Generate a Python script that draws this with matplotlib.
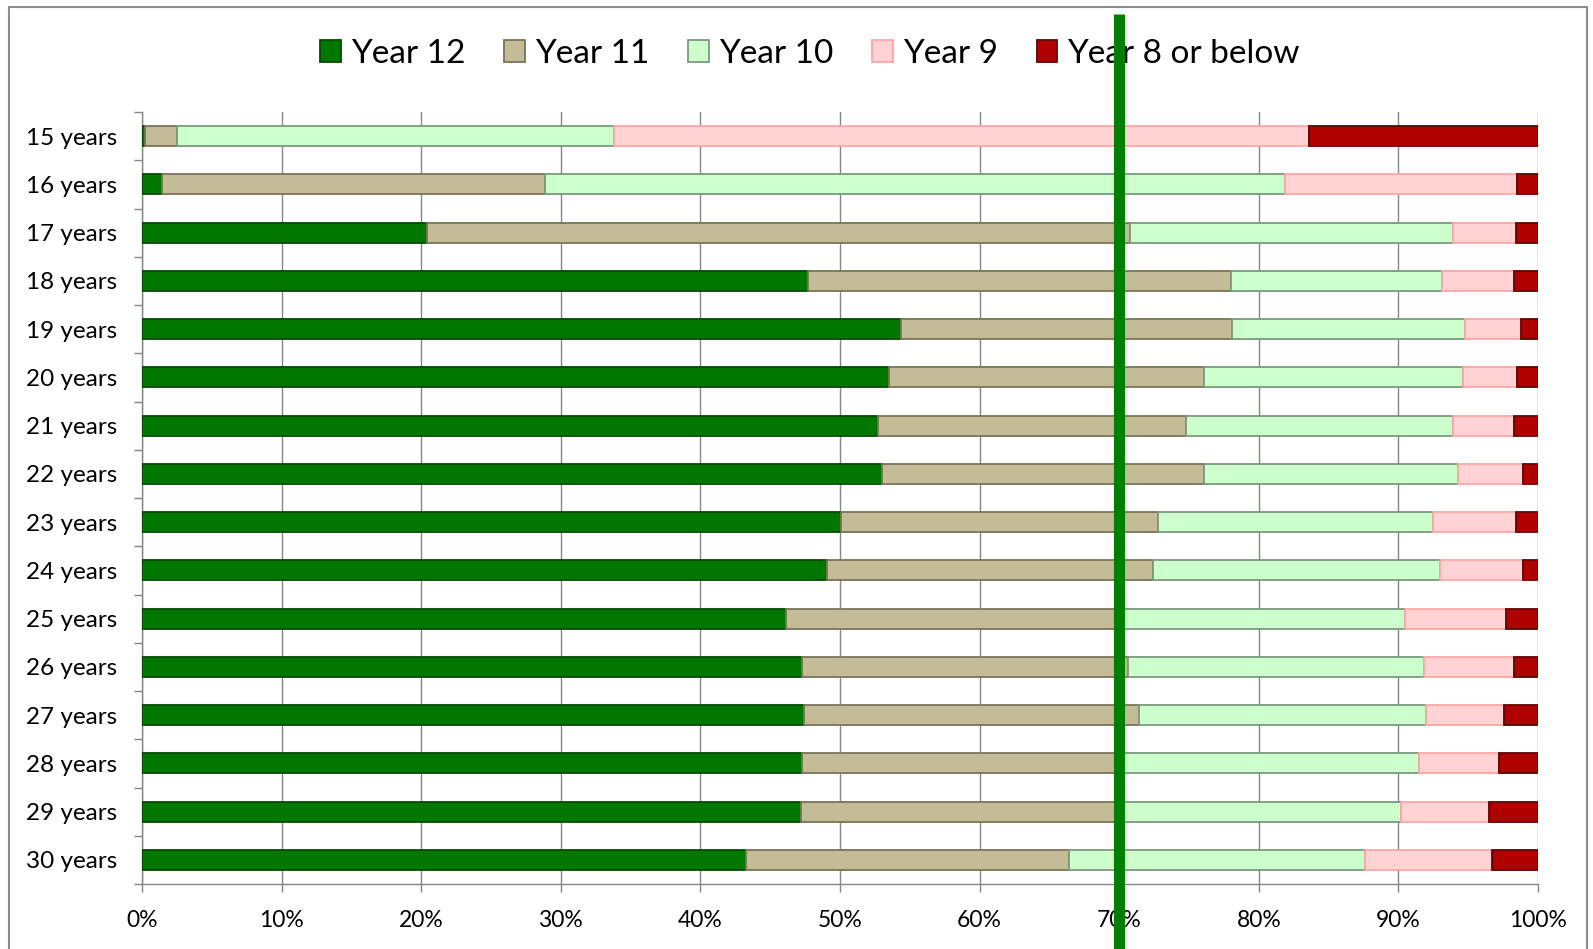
import matplotlib
matplotlib.use("Agg")
import matplotlib.pyplot as plt
from matplotlib.patches import Rectangle
import numpy as np

plt.rcParams['font.family'] = ['Lato', 'DejaVu Sans']

categories = ["15 years", "16 years", "17 years", "18 years", "19 years", "20 years",
              "21 years", "22 years", "23 years", "24 years", "25 years", "26 years",
              "27 years", "28 years", "29 years", "30 years"]
series_names = ["Year 12", "Year 11", "Year 10", "Year 9", "Year 8 or below"]

year12 = [0.2, 1.4, 20.4, 47.7, 54.4, 53.5, 52.7, 53.0, 50.1, 49.1, 46.1, 47.3, 47.4, 47.3, 47.2, 43.3]
year11 = [2.3, 27.5, 50.4, 30.3, 23.7, 22.6, 22.1, 23.1, 22.7, 23.3, 23.9, 23.3, 24.0, 22.6, 22.8, 23.1]
year10 = [31.3, 53.0, 23.1, 15.1, 16.7, 18.5, 19.1, 18.2, 19.7, 20.6, 20.5, 21.2, 20.6, 21.6, 20.2, 21.2]
year9 = [49.8, 16.6, 4.5, 5.2, 4.0, 3.9, 4.4, 4.6, 5.9, 5.9, 7.2, 6.5, 5.6, 5.7, 6.3, 9.1]
year8 = [16.4, 1.5, 1.6, 1.7, 1.2, 1.5, 1.7, 1.1, 1.6, 1.1, 2.3, 1.7, 2.4, 2.8, 3.5, 3.3]

x_ticks = [0, 10, 20, 30, 40, 50, 60, 70, 80, 90, 100]
x_ticklabels = ["0%", "10%", "20%", "30%", "40%", "50%", "60%", "70%", "80%", "90%", "100%"]
target_line = 70

face_colors = ["#007800", "#C4BC96", "#CCFFCC", "#FFD3D3", "#B00000"]
edge_colors = ["#004A00", "#7A7358", "#7C9A7E", "#FFA5A5", "#660000"]

W, H = 1593, 949
ax_l, ax_r, ax_t, ax_b = 142, 1538, 112, 884

fig = plt.figure(figsize=(W / 100, H / 100), dpi=100)
ax = fig.add_axes([ax_l / W, 1 - ax_b / H, (ax_r - ax_l) / W, (ax_b - ax_t) / H])

y = np.arange(len(categories))
left = np.zeros(len(categories))
for vals, name, fc, ec in zip([year12, year11, year10, year9, year8], series_names, face_colors, edge_colors):
    v = np.array(vals)
    ax.barh(y, v, left=left, height=0.41, color=fc, edgecolor=ec, linewidth=1.3,
            label=name, zorder=3)
    left += v

ax.set_xlim(0, 100)
ax.set_ylim(len(categories) - 0.5, -0.5)

ax.set_xticks(x_ticks)
ax.set_xticklabels(x_ticklabels, fontsize=16.5)
ax.set_yticks(y)
ax.set_yticklabels(categories, fontsize=17.5)
ax.set_yticks(np.arange(len(categories) + 1) - 0.5, minor=True)

grid_c = "#868686"
ax.xaxis.grid(True, color=grid_c, linewidth=1.0, zorder=0)
ax.set_axisbelow(True)
ax.tick_params(axis='y', which='major', length=0, pad=18)
ax.tick_params(axis='y', which='minor', length=6, width=1.0, color=grid_c, direction='out')
ax.tick_params(axis='x', which='major', length=6, width=1.0, color=grid_c, direction='out', pad=13)
for s in ['top', 'right']:
    ax.spines[s].set_visible(False)
for s in ['left', 'bottom']:
    ax.spines[s].set_color(grid_c)
    ax.spines[s].set_linewidth(1.0)

span = ax_b - ax_t
leg = ax.legend(loc='center', bbox_to_anchor=(0.4785, (ax_b - 54) / span), ncol=5, frameon=False,
                fontsize=24, handlelength=0.62, handleheight=0.62, handletextpad=0.3,
                columnspacing=1.17, borderaxespad=0)
leg.set_zorder(5)

# green reference line spanning beyond the axes
ax.axvline(target_line, ymin=(ax_b - 965) / span, ymax=(ax_b - 14) / span, color="#008000",
           linewidth=8, clip_on=False, zorder=10, solid_capstyle='butt')

# chart area border
fig.patches.append(Rectangle((9 / W, -0.05), (1587 - 9) / W, 1.05 - 7 / H,
                             transform=fig.transFigure, fill=False,
                             edgecolor="#8C8C8C", linewidth=1.5, zorder=0))

fig.savefig("out.png", dpi=100)
